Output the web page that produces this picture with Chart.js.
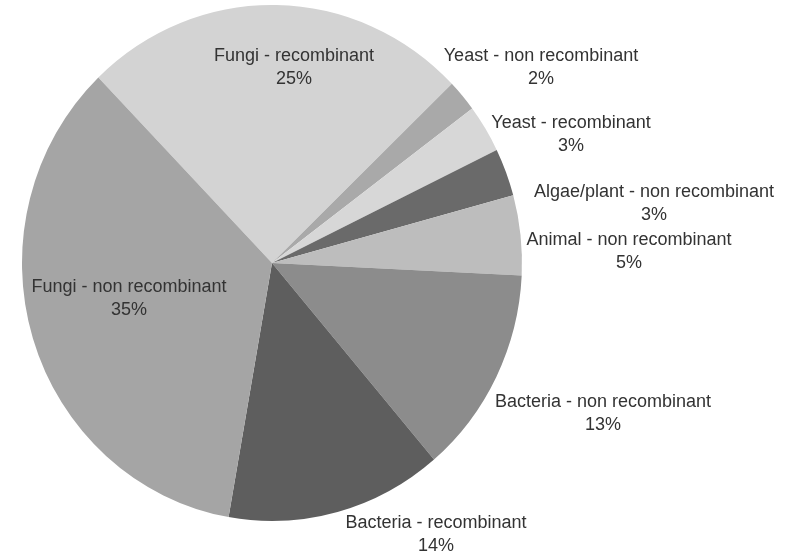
<!DOCTYPE html>
<html>
<head>
<meta charset="utf-8">
<script src="https://cdn.jsdelivr.net/npm/chart.js@4/dist/chart.umd.min.js"></script>
<style>
  html, body { margin: 0; padding: 0; background: #ffffff; }
  #wrap { width: 786px; height: 554px; position: relative; }
</style>
</head>
<body>
<div id="wrap"><canvas id="chart"></canvas></div>
<script>
// source categories, clockwise from the upper-left edge
const categories = [
  "Fungi - recombinant",
  "Yeast - non recombinant",
  "Yeast - recombinant",
  "Algae/plant - non recombinant",
  "Animal - non recombinant",
  "Bacteria - non recombinant",
  "Bacteria - recombinant",
  "Fungi - non recombinant",
];
const shares = [25, 2, 3, 3, 5, 13, 14, 35];

const sliceColors = [
  "#d3d3d3", "#a9a9a9", "#d7d7d7", "#6a6a6a",
  "#bdbdbd", "#8c8c8c", "#5e5e5e", "#a5a5a5",
];

// where each label sits (centre of the text block)
const labelSpots = [
  [294, 68], [541, 68], [571, 135], [654, 204],
  [629, 252], [603, 414], [436, 535], [129, 299],
];

// the scanned pie is a little taller than wide
const stretchY = 1.032;

const ovalPie = {
  id: "ovalPie",
  beforeDatasetsDraw(chart) {
    const arc = chart.getDatasetMeta(0).data[0];
    const ctx = chart.ctx;
    ctx.save();
    ctx.translate(0, arc.y);
    ctx.scale(1, stretchY);
    ctx.translate(0, -arc.y);
  },
  afterDatasetsDraw(chart) {
    chart.ctx.restore();
  },
};

const pieLabels = {
  id: "pieLabels",
  afterDraw(chart) {
    const ctx = chart.ctx;
    ctx.save();
    ctx.fillStyle = "#333333";
    ctx.textAlign = "center";
    ctx.textBaseline = "middle";
    ctx.font = "18px 'Liberation Sans Narrow', 'Liberation Sans', Arial, sans-serif";
    categories.forEach((name, i) => {
      const [x, y] = labelSpots[i];
      ctx.fillText(name, x, y - 12);
      ctx.fillText(shares[i] + "%", x, y + 11);
    });
    ctx.restore();
  },
};

new Chart(document.getElementById("chart"), {
  type: "pie",
  data: {
    labels: categories,
    datasets: [
      {
        data: shares,
        backgroundColor: sliceColors,
        borderWidth: 0,
      },
    ],
  },
  options: {
    responsive: true,
    maintainAspectRatio: false,
    animation: false,
    rotation: -44,
    layout: {
      padding: { left: 22, right: 264, top: 13, bottom: 41 },
    },
    plugins: {
      legend: { display: false },
      tooltip: { enabled: false },
    },
  },
  plugins: [ovalPie, pieLabels],
});
</script>
</body>
</html>
